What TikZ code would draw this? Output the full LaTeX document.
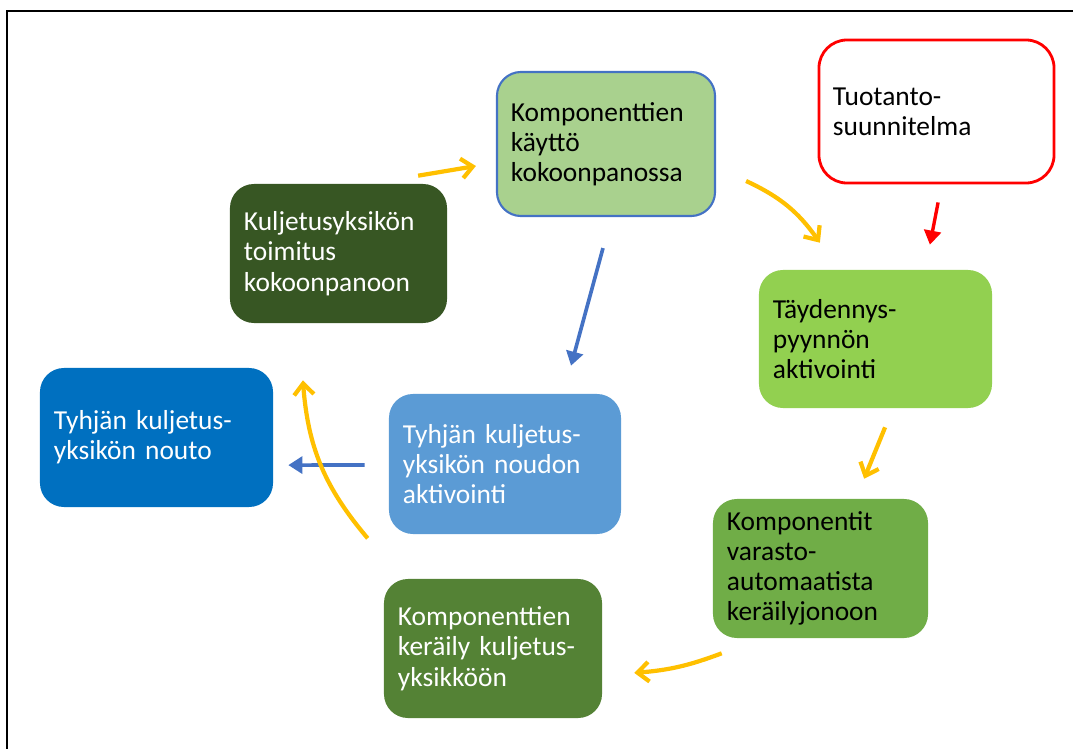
\documentclass[tikz,border=0pt]{standalone}
\usepackage{fontspec}
\setmainfont{Carlito}
\usetikzlibrary{arrows.meta}
\definecolor{orng}{HTML}{FFC000}
\definecolor{blu}{HTML}{4472C4}
\definecolor{rd}{HTML}{FF0000}
\definecolor{g1}{HTML}{A9D18E}
\definecolor{g2}{HTML}{375623}
\definecolor{g3}{HTML}{92D050}
\definecolor{g4}{HTML}{70AD47}
\definecolor{g5}{HTML}{548235}
\definecolor{b1}{HTML}{0070C0}
\definecolor{b2}{HTML}{5B9BD5}
\tikzset{
 box/.style={rectangle,rounded corners=0.6cm,inner xsep=0.35cm,align=left,
   font=\fontsize{19.5}{21.5}\selectfont},
 yarrow/.style={orng,line width=3pt,-{Straight Barb[length=8pt,width=14pt]}},
 barrow/.style={blu,line width=2.6pt,-{Triangle[length=10pt,width=12pt]}},
 rarrow/.style={rd,line width=2.4pt,-{Triangle[length=10pt,width=12pt]}},
}
\begin{document}
\begin{tikzpicture}[x=0.025cm,y=-0.025cm]
 \useasboundingbox (0,0) rectangle (1073,749);
 \draw[line width=1.4pt] (7,749)--(7,11)--(1073,11);
 % steps
 \node[box,fill=g1,draw=blu,line width=1.5pt,text width=4.75cm,minimum height=3.6cm] (kaytto) at (606,144) {Komponenttien\\ käyttö\\ kokoonpanossa};
 \node[box,draw=rd,line width=2pt,rounded corners=0.7cm,text width=5.175cm,minimum height=3.575cm] (suunn) at (936.5,111.5) {Tuotanto-\\ suunnitelma};
 \node[box,fill=g2,text=white,text width=4.725cm,minimum height=3.475cm] (toimitus) at (338.5,253.5) {Kuljetusyksikön\\ toimitus\\ kokoonpanoon};
 \node[box,fill=g3,text width=5.125cm,minimum height=3.45cm] (taydennys) at (875.5,339) {Täydennys-\\ pyynnön\\ aktivointi};
 \node[box,fill=b1,text=white,text width=5.125cm,minimum height=3.475cm] (nouto) at (156.5,437.5) {Tyhjän kuljetus-\\ yksikön nouto};
 \node[box,fill=b2,text=white,text width=5.1cm,minimum height=3.5cm] (noutoakt) at (505,464) {Tyhjän kuljetus-\\ yksikön noudon\\ aktivointi};
 \node[box,fill=g4,text width=4.675cm,minimum height=3.475cm] (jono) at (820.5,568.5) {Komponentit\\ varasto-\\ automaatista\\ keräilyjonoon};
 \node[box,fill=g5,text=white,text width=4.75cm,minimum height=3.475cm] (keraily) at (493,648.5) {Komponenttien\\ keräily kuljetus-\\ yksikköön};
 % arrows
 \draw[yarrow] ([xshift=1.99cm,yshift=0.2cm]toimitus.north) -- ([xshift=-0.5cm,yshift=-0.55cm]kaytto.west);
 \draw[yarrow] ([xshift=0.75cm,yshift=-0.925cm]kaytto.east) to[bend left=15] ([xshift=-1.39cm,yshift=0.675cm]taydennys.north);
 \draw[rarrow] ([xshift=0.04cm,yshift=-0.45cm]suunn.south) -- ([xshift=1.36cm,yshift=0.625cm]taydennys.north);
 \draw[barrow] ([xshift=-0.075cm,yshift=-0.775cm]kaytto.south) -- ([xshift=1.65cm,yshift=0.7cm]noutoakt.north);
 \draw[yarrow] ([xshift=0.24cm,yshift=-0.475cm]taydennys.south) -- ([xshift=1.09cm,yshift=0.5cm]jono.north);
 \draw[yarrow] ([xshift=0.225cm,yshift=-0.375cm]jono.south west) to[bend left=8] ([xshift=0.8cm,yshift=-0.61cm]keraily.east);
 \draw[barrow] ([xshift=-0.6cm,yshift=-0.025cm]noutoakt.west) -- ([xshift=0.375cm,yshift=-0.69cm]nouto.east);
 \draw[yarrow] ([xshift=-0.525cm,yshift=-0.1cm]noutoakt.south west) to[bend left=18] ([xshift=-0.89cm,yshift=-1.425cm]toimitus.south);
\end{tikzpicture}
\end{document}
